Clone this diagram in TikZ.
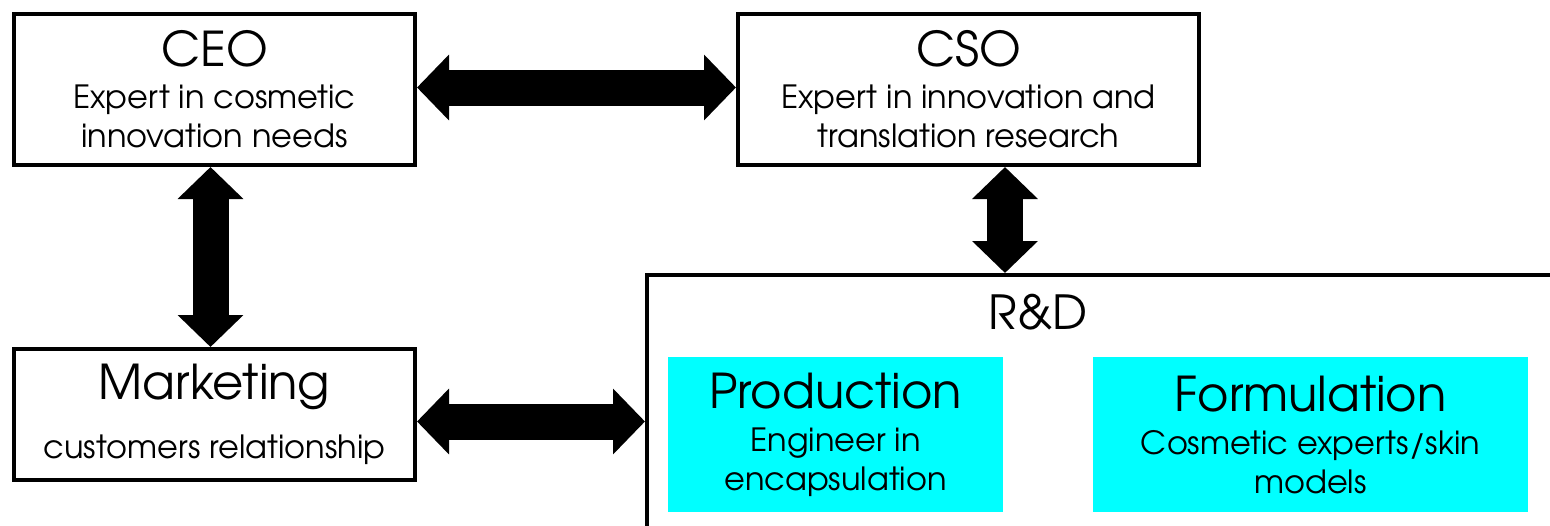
\documentclass[tikz,border=0pt]{standalone}
\usepackage{fontspec}
\setmainfont{TeX Gyre Adventor}
\usetikzlibrary{arrows.meta}
\definecolor{aqua}{RGB}{0,255,255}
\newcommand\headfont{\fontsize{48}{52}\selectfont}
\newcommand\subfont{\fontsize{32}{36}\selectfont}

\begin{document}
\begin{tikzpicture}[x=1pt,y=-1pt,
			big arrow/.style={{Triangle[length=32pt,width=64pt]}-{Triangle[length=32pt,width=64pt]},line width=36pt},
			square node/.style={rectangle,draw,line width=4pt,align=center,inner sep=0pt,font=\subfont},
			team node/.style={rectangle,fill=aqua,align=center,inner sep=0pt,font=\subfont}]
			
			\useasboundingbox (0,0) rectangle (1550,525);
			\clip (0,0) rectangle (1550,525);
			
			\node[square node,minimum width=401pt,minimum height=151pt] (ceo) at (214.5,89.5) {{\headfont CEO}\\[6pt]Expert in cosmetic\\[3pt]innovation needs};
			\node[square node,minimum width=461pt,minimum height=151pt] (cso) at (968.5,89.5) {{\headfont CSO}\\[6pt]Expert in innovation and\\[3pt]translation research};
			\node[square node,minimum width=401pt,minimum height=131pt] (mkt) at (214.5,414.5) {{\headfont Marketing}\\[23pt]customers relationship};
			
			\node[square node,anchor=north west,minimum width=1000pt,minimum height=300pt] (rd) at (645,273) {};
			\node[font=\fontsize{47}{52}\selectfont] (rdlabel) at (1038,312) {R\&D};
			\node[team node,minimum width=335pt,minimum height=155pt] (prod) at (835.5,434.5) {{\headfont Production}\\[7pt]Engineer in\\[3pt]encapsulation};
			\node[team node,minimum width=435pt,minimum height=155pt] (form) at (1310.5,434.5) {{\headfont Formulation}\\[7pt]Cosmetic experts/skin\\[3pt]models};
			
			\path[big arrow]
			([yshift=2pt]ceo.east) edge ([yshift=2pt]cso.west)
			([xshift=-4pt]ceo.south) edge ([xshift=-4pt]mkt.north)
			([yshift=-7pt]mkt.east) edge ([yshift=-7pt]mkt.east -| rd.west)
			([xshift=36.5pt]cso.south) edge ([xshift=36.5pt]cso.south |- rd.north);
			\end{tikzpicture}
\end{document}
